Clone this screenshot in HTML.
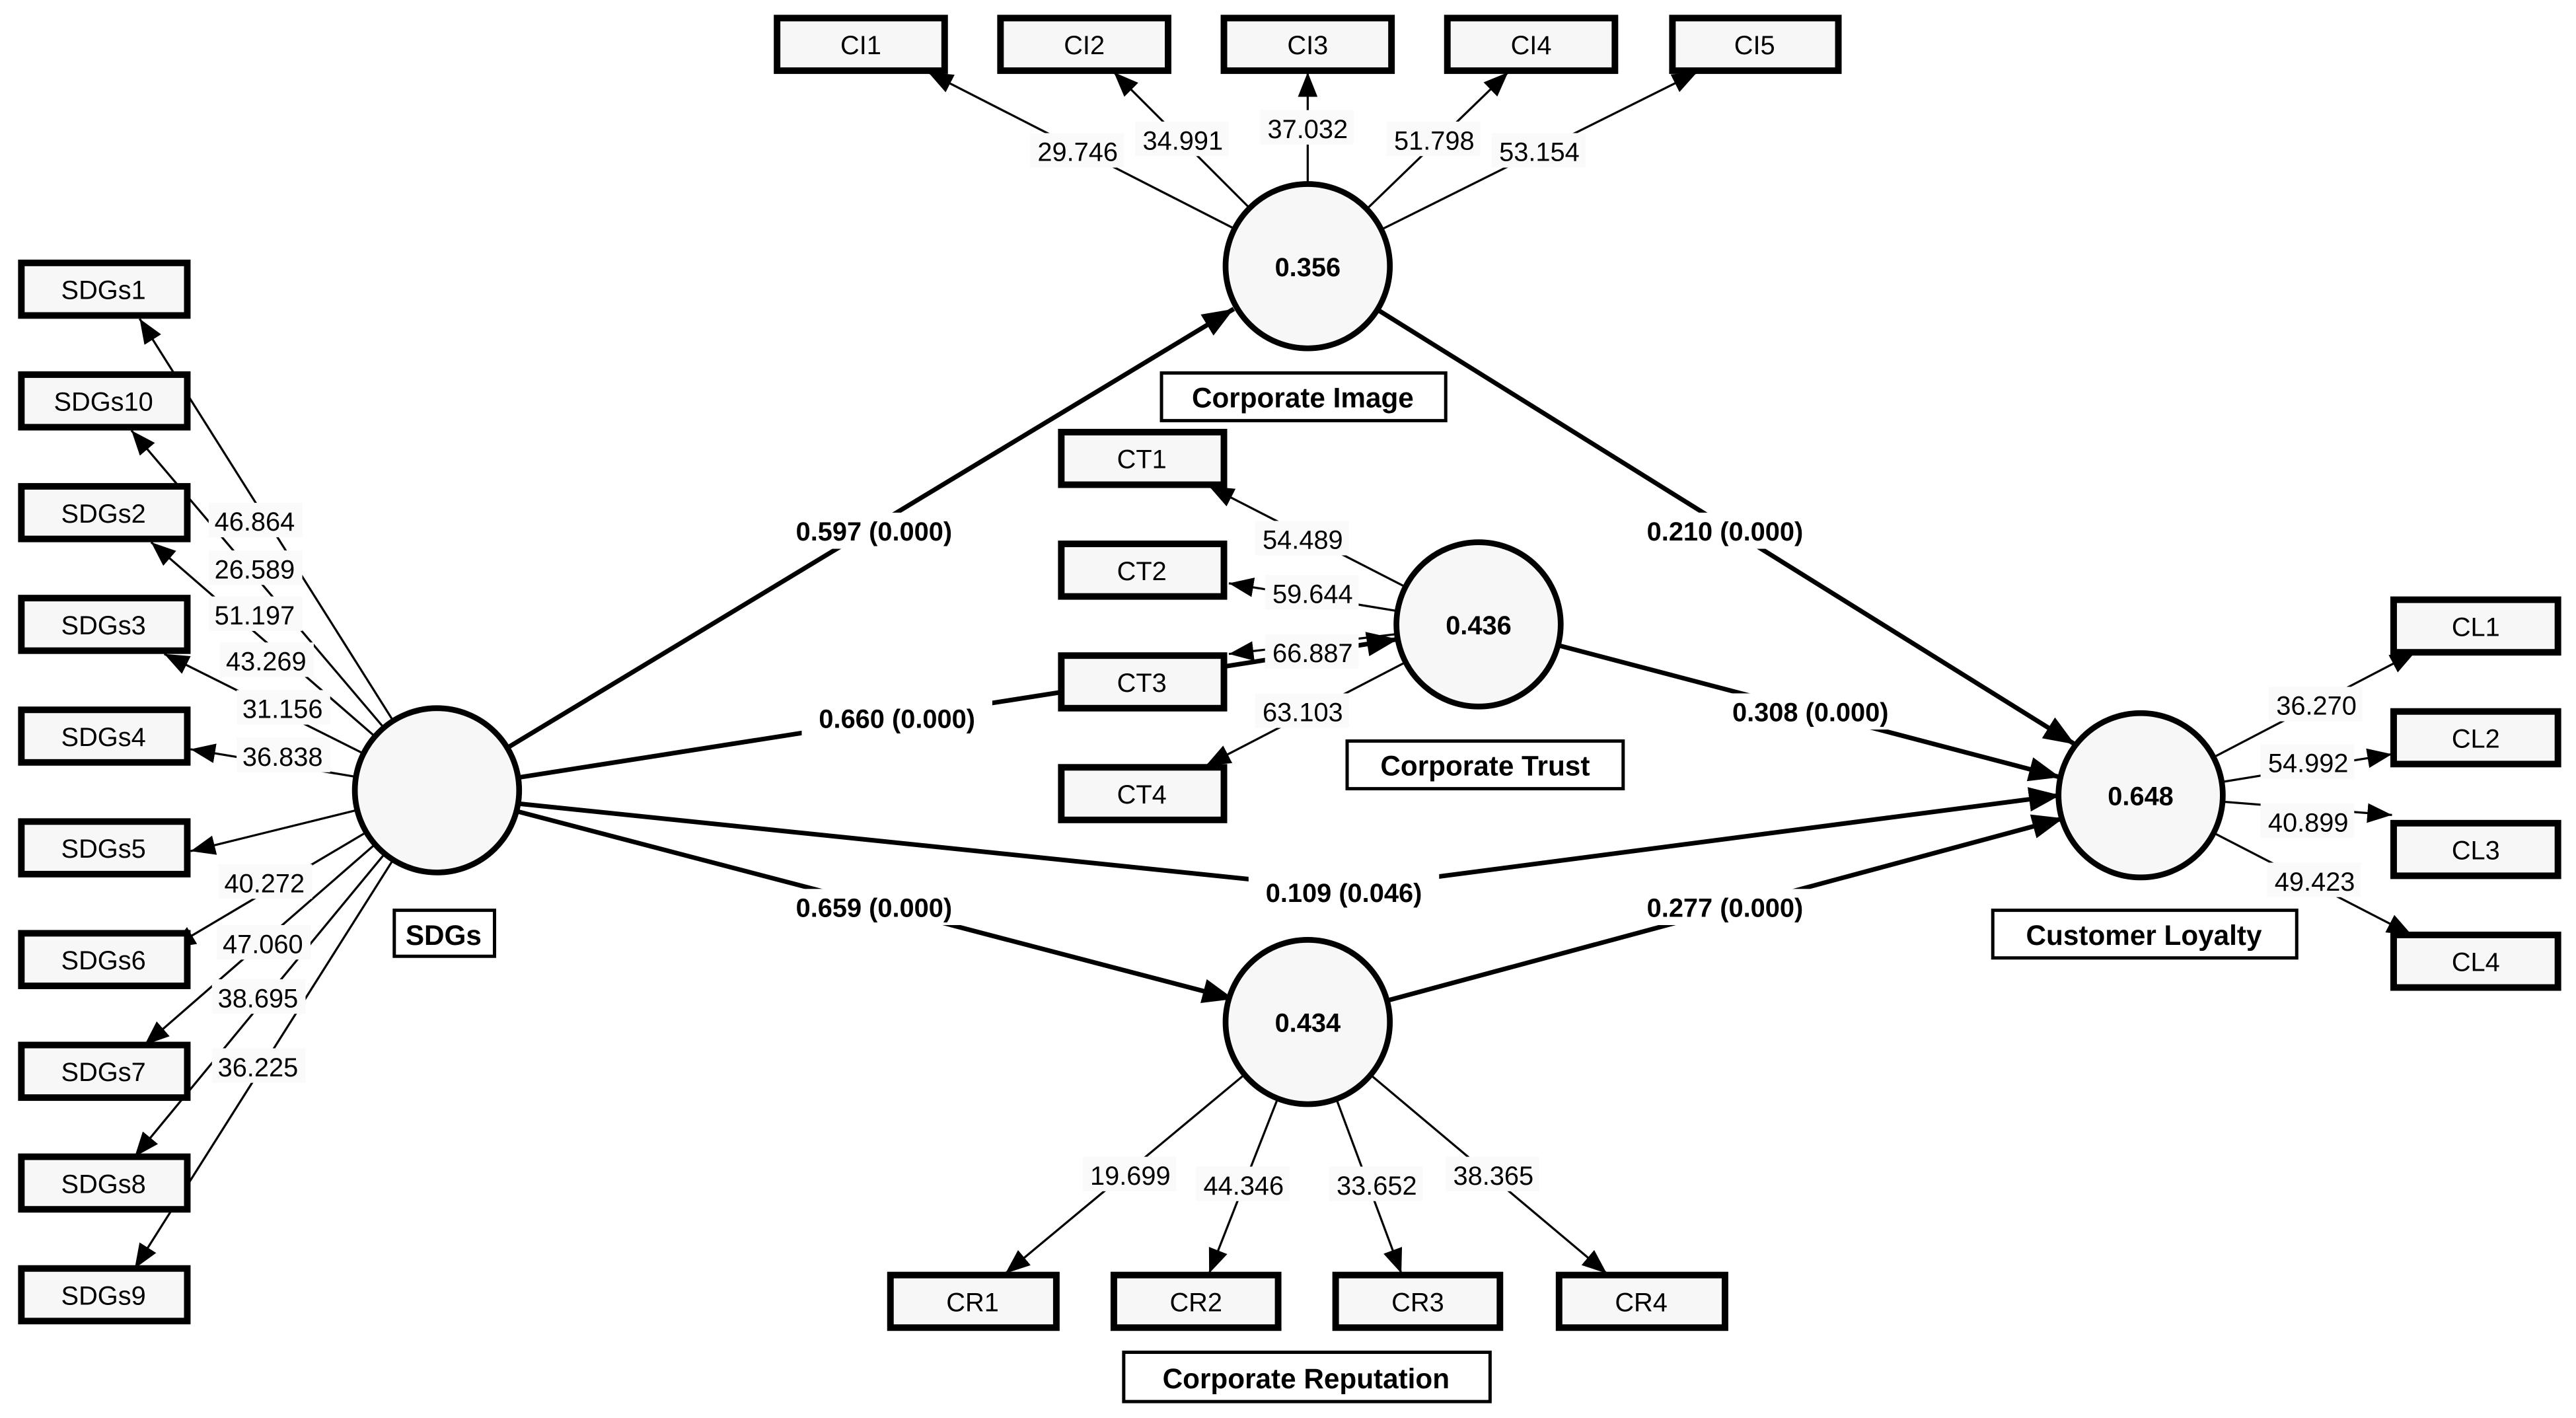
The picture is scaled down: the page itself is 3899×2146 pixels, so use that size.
<!DOCTYPE html>
<html><head><meta charset="utf-8"><style>
html,body{margin:0;padding:0;background:#fff;}
svg{display:block;}
text{font-family:"Liberation Sans",Arial,sans-serif;}
</style></head><body>
<svg width="3899" height="2146" viewBox="0 0 1568 863" preserveAspectRatio="none" xmlns="http://www.w3.org/2000/svg">
<defs>
<marker id="a" markerUnits="userSpaceOnUse" markerWidth="16" markerHeight="14" refX="15" refY="6" orient="auto"><path d="M0,0 L15,6 L0,12 z" fill="#000"/></marker>
<marker id="b" markerUnits="userSpaceOnUse" markerWidth="20" markerHeight="16" refX="19" refY="7.5" orient="auto"><path d="M0,0 L19,7.5 L0,15 z" fill="#000"/></marker>
</defs>
<rect width="1568" height="863" fill="#fff"/>
<g stroke="#000" stroke-width="1.3" fill="none" marker-end="url(#a)">
<!-- SDGs loadings -->
<line x1="266" y1="481" x2="85" y2="194"/>
<line x1="266" y1="481" x2="80" y2="262"/>
<line x1="266" y1="481" x2="92" y2="330"/>
<line x1="266" y1="481" x2="100" y2="398"/>
<line x1="266" y1="481" x2="116" y2="456"/>
<line x1="266" y1="481" x2="116" y2="518"/>
<line x1="266" y1="481" x2="104" y2="577"/>
<line x1="266" y1="481" x2="88" y2="636"/>
<line x1="266" y1="481" x2="82" y2="704"/>
<line x1="266" y1="481" x2="82" y2="772"/>
<!-- CI -->
<line x1="796" y1="162" x2="565" y2="44"/>
<line x1="796" y1="162" x2="678" y2="44"/>
<line x1="796" y1="162" x2="796" y2="44"/>
<line x1="796" y1="162" x2="918" y2="44"/>
<line x1="796" y1="162" x2="1033" y2="44"/>
<!-- CT -->
<line x1="900" y1="380" x2="736" y2="296"/>
<line x1="900" y1="380" x2="748" y2="355"/>
<line x1="900" y1="380" x2="748" y2="398"/>
<line x1="900" y1="380" x2="734" y2="466"/>
<!-- CR -->
<line x1="796" y1="622" x2="612" y2="775"/>
<line x1="796" y1="622" x2="736" y2="775"/>
<line x1="796" y1="622" x2="853" y2="775"/>
<line x1="796" y1="622" x2="978" y2="775"/>
<!-- CL -->
<line x1="1303" y1="484" x2="1470" y2="397"/>
<line x1="1303" y1="484" x2="1456" y2="459"/>
<line x1="1303" y1="484" x2="1456" y2="496"/>
<line x1="1303" y1="484" x2="1468" y2="569"/>
</g>
<g stroke="#000" stroke-width="2.8" fill="none" marker-end="url(#b)">
<line x1="266" y1="481" x2="751" y2="188"/>
<line x1="266" y1="481" x2="851" y2="389"/>
<path d="M266,484 L818,541 L1254,484"/>
<line x1="266" y1="481" x2="751" y2="608"/>
<line x1="796" y1="162" x2="1263" y2="453"/>
<line x1="900" y1="380" x2="1254" y2="473"/>
<line x1="796" y1="622" x2="1256" y2="498"/>
</g>
<!-- circles -->
<g stroke="#000" stroke-width="3.5" fill="#f7f7f7">
<circle cx="266" cy="481" r="50"/>
<circle cx="796" cy="162" r="50"/>
<circle cx="900" cy="380" r="50"/>
<circle cx="796" cy="622" r="50"/>
<circle cx="1303" cy="484" r="50"/>
</g>
<g font-weight="bold" font-size="16" text-anchor="middle">
<text x="796" y="168">0.356</text>
<text x="900" y="386">0.436</text>
<text x="796" y="628">0.434</text>
<text x="1303" y="490">0.648</text>
</g>
<!-- indicator boxes -->
<g stroke="#000" stroke-width="4" fill="#f7f7f7">
<rect x="13" y="160" width="101" height="32"/>
<rect x="13" y="228" width="101" height="32"/>
<rect x="13" y="296" width="101" height="32"/>
<rect x="13" y="364" width="101" height="32"/>
<rect x="13" y="432" width="101" height="32"/>
<rect x="13" y="500" width="101" height="32"/>
<rect x="13" y="568" width="101" height="32"/>
<rect x="13" y="636" width="101" height="32"/>
<rect x="13" y="704" width="101" height="32"/>
<rect x="13" y="772" width="101" height="32"/>
<rect x="473" y="11" width="102" height="32"/>
<rect x="609" y="11" width="102" height="32"/>
<rect x="745" y="11" width="102" height="32"/>
<rect x="881" y="11" width="102" height="32"/>
<rect x="1018" y="11" width="101" height="32"/>
<rect x="646" y="263" width="99" height="32"/>
<rect x="646" y="331" width="99" height="32"/>
<rect x="646" y="399" width="99" height="32"/>
<rect x="646" y="467" width="99" height="32"/>
<rect x="542" y="776" width="101" height="32"/>
<rect x="678" y="776" width="100" height="32"/>
<rect x="813" y="776" width="100" height="32"/>
<rect x="949" y="776" width="101" height="32"/>
<rect x="1457" y="365" width="100" height="32"/>
<rect x="1457" y="433" width="100" height="32"/>
<rect x="1457" y="501" width="100" height="32"/>
<rect x="1457" y="569" width="100" height="32"/>
</g>
<g font-size="16" text-anchor="middle" fill="#000">
<text x="63" y="182">SDGs1</text><text x="63" y="250">SDGs10</text><text x="63" y="318">SDGs2</text>
<text x="63" y="386">SDGs3</text><text x="63" y="454">SDGs4</text><text x="63" y="522">SDGs5</text>
<text x="63" y="590">SDGs6</text><text x="63" y="658">SDGs7</text><text x="63" y="726">SDGs8</text><text x="63" y="794">SDGs9</text>
<text x="524" y="33">CI1</text><text x="660" y="33">CI2</text><text x="796" y="33">CI3</text><text x="932" y="33">CI4</text><text x="1068" y="33">CI5</text>
<text x="695" y="285">CT1</text><text x="695" y="353">CT2</text><text x="695" y="421">CT3</text><text x="695" y="489">CT4</text>
<text x="592" y="798">CR1</text><text x="728" y="798">CR2</text><text x="863" y="798">CR3</text><text x="999" y="798">CR4</text>
<text x="1507" y="387">CL1</text><text x="1507" y="455">CL2</text><text x="1507" y="523">CL3</text><text x="1507" y="591">CL4</text>
</g>
<!-- construct labels -->
<g stroke="#000" stroke-width="2" fill="#fff">
<rect x="707" y="227" width="173" height="29"/>
<rect x="820" y="451" width="168" height="29"/>
<rect x="240" y="554" width="61" height="28"/>
<rect x="1213" y="554" width="185" height="29"/>
<rect x="684" y="823" width="223" height="30"/>
</g>
<g font-size="17" font-weight="bold" text-anchor="middle">
<text x="793" y="248">Corporate Image</text>
<text x="904" y="472">Corporate Trust</text>
<text x="270" y="575">SDGs</text>
<text x="1305" y="575">Customer Loyalty</text>
<text x="795" y="845">Corporate Reputation</text>
</g>
<!-- loading value labels -->
<g font-size="16" text-anchor="middle">
<g fill="#fafafa">
<rect x="127" y="306" width="57" height="21"/><rect x="127" y="335" width="57" height="21"/><rect x="127" y="363" width="57" height="21"/>
<rect x="134" y="391" width="57" height="21"/><rect x="144" y="420" width="57" height="21"/><rect x="144" y="449" width="57" height="21"/>
<rect x="133" y="526" width="57" height="21"/><rect x="132" y="563" width="57" height="21"/><rect x="129" y="596" width="57" height="21"/><rect x="129" y="638" width="57" height="21"/>
<rect x="627" y="81" width="57" height="21"/><rect x="691" y="74" width="57" height="21"/><rect x="767" y="67" width="57" height="21"/><rect x="844" y="74" width="57" height="21"/><rect x="908" y="81" width="57" height="21"/>
<rect x="764" y="317" width="57" height="21"/><rect x="770" y="350" width="57" height="21"/><rect x="770" y="386" width="57" height="21"/><rect x="764" y="422" width="57" height="21"/>
<rect x="659" y="704" width="57" height="21"/><rect x="728" y="710" width="57" height="21"/><rect x="809" y="710" width="57" height="21"/><rect x="880" y="704" width="57" height="21"/>
<rect x="1381" y="418" width="57" height="21"/><rect x="1376" y="453" width="57" height="21"/><rect x="1376" y="489" width="57" height="21"/><rect x="1380" y="525" width="57" height="21"/>
</g>
<text x="155" y="323">46.864</text><text x="155" y="352">26.589</text><text x="155" y="380">51.197</text>
<text x="162" y="408">43.269</text><text x="172" y="437">31.156</text><text x="172" y="466">36.838</text>
<text x="161" y="543">40.272</text><text x="160" y="580">47.060</text><text x="157" y="613">38.695</text><text x="157" y="655">36.225</text>
<text x="656" y="98">29.746</text><text x="720" y="91">34.991</text><text x="796" y="84">37.032</text><text x="873" y="91">51.798</text><text x="937" y="98">53.154</text>
<text x="793" y="334">54.489</text><text x="799" y="367">59.644</text><text x="799" y="403">66.887</text><text x="793" y="439">63.103</text>
<text x="688" y="721">19.699</text><text x="757" y="727">44.346</text><text x="838" y="727">33.652</text><text x="909" y="721">38.365</text>
<text x="1410" y="435">36.270</text><text x="1405" y="470">54.992</text><text x="1405" y="506">40.899</text><text x="1409" y="542">49.423</text>
</g>
<!-- path coefficients -->
<g font-size="16" font-weight="bold" text-anchor="middle">
<g fill="#fff">
<rect x="474" y="312" width="116" height="22"/><rect x="488" y="426" width="116" height="22"/><rect x="760" y="532" width="116" height="22"/>
<rect x="474" y="541" width="116" height="22"/><rect x="992" y="312" width="116" height="22"/><rect x="1044" y="422" width="116" height="22"/><rect x="992" y="541" width="116" height="22"/>
</g>
<text x="532" y="329">0.597 (0.000)</text>
<text x="546" y="443">0.660 (0.000)</text>
<text x="818" y="549">0.109 (0.046)</text>
<text x="532" y="558">0.659 (0.000)</text>
<text x="1050" y="329">0.210 (0.000)</text>
<text x="1102" y="439">0.308 (0.000)</text>
<text x="1050" y="558">0.277 (0.000)</text>
</g>
</svg>
</body></html>
